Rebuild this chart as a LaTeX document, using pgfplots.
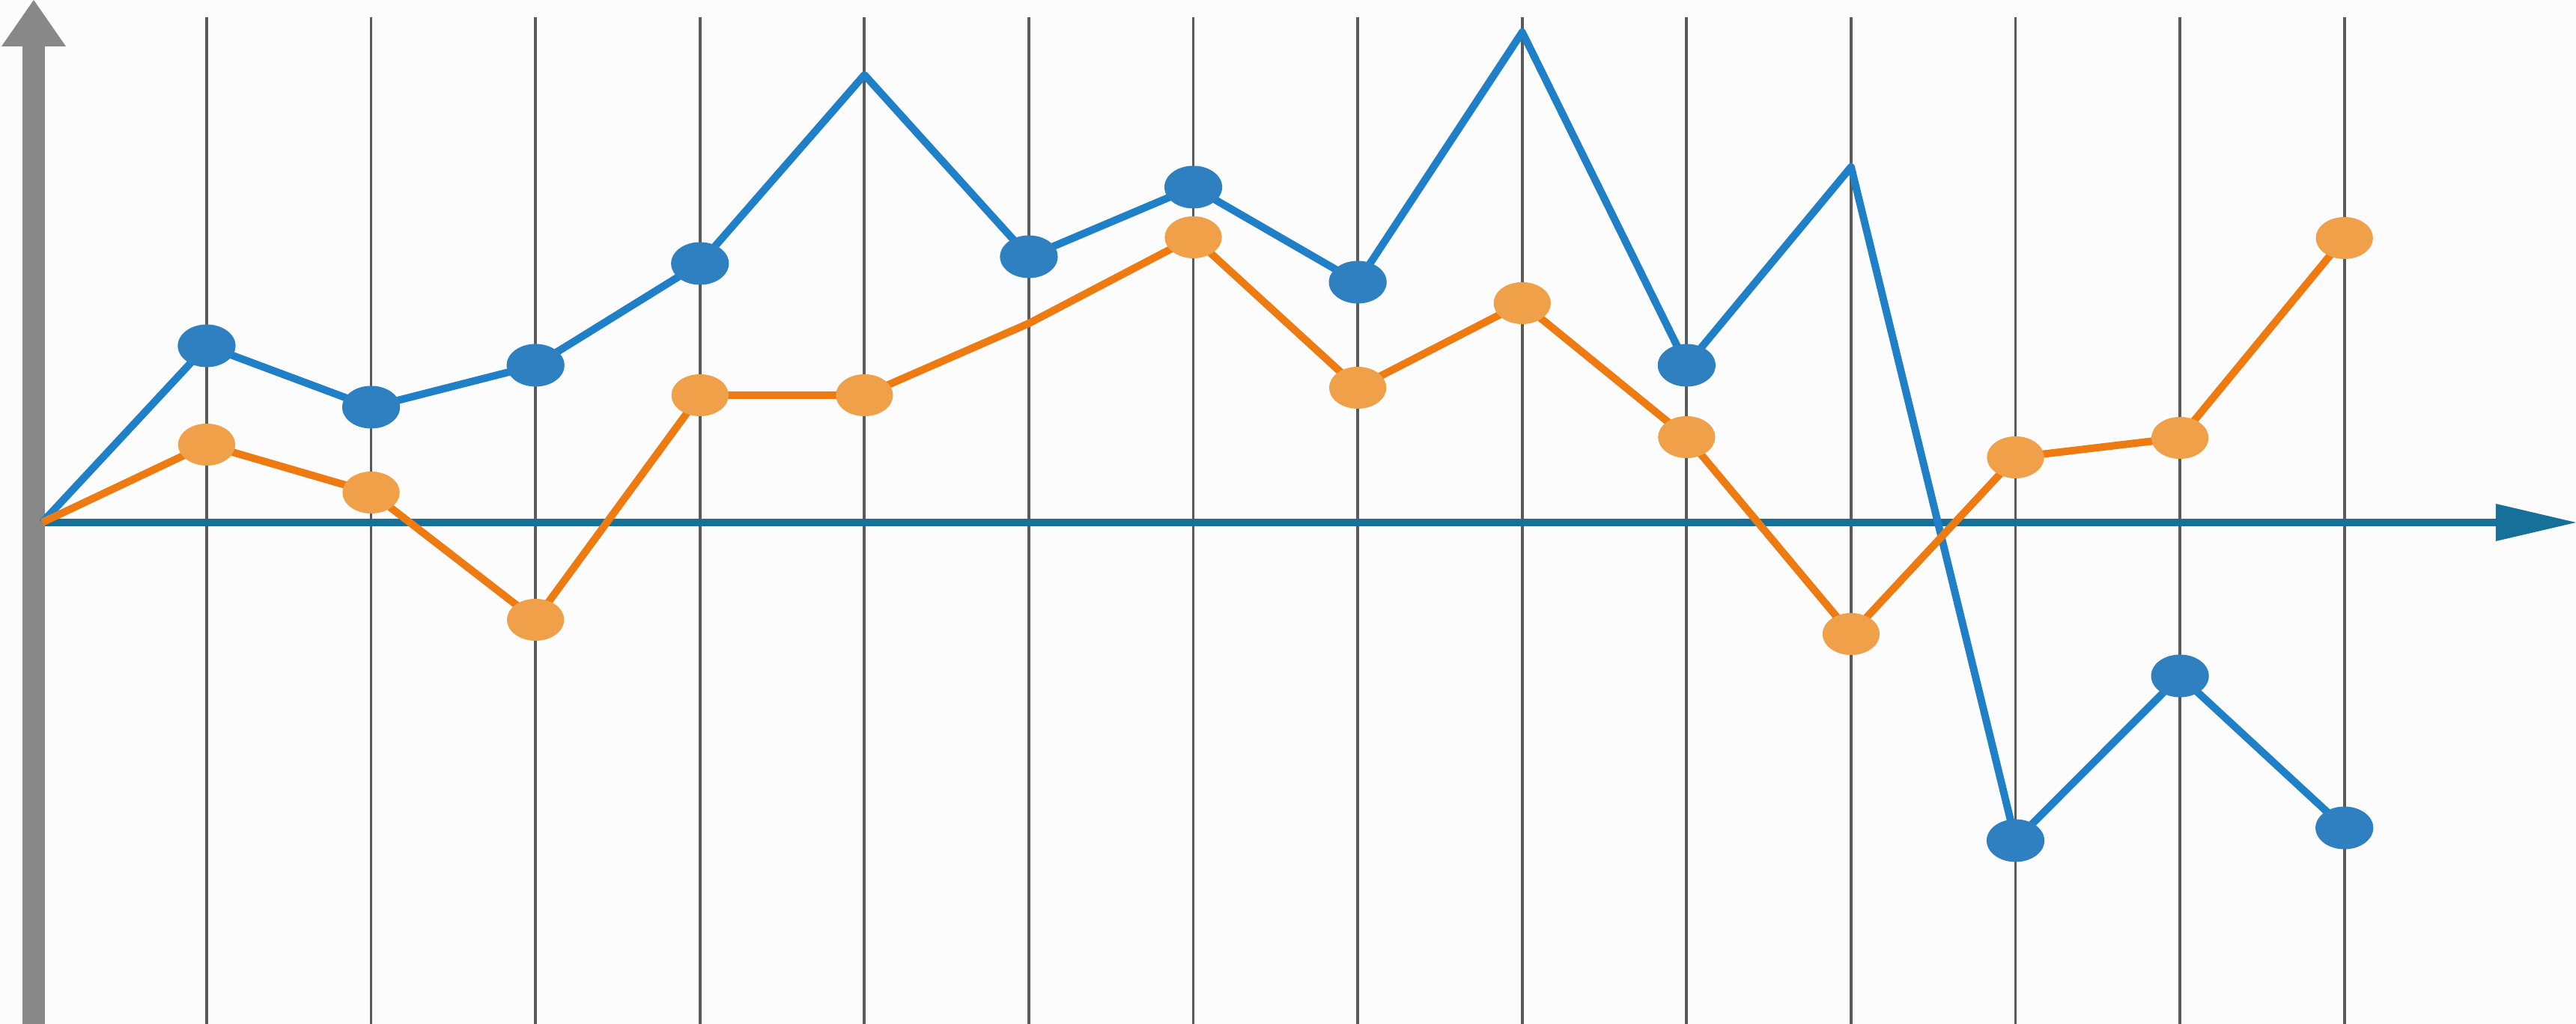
\documentclass[border=0pt]{standalone}
\usepackage{pgfplots}
\pgfplotsset{compat=1.18}
\definecolor{bgc}{HTML}{FCFCFC}
\definecolor{blueL}{HTML}{1F80C8}
\definecolor{blueM}{HTML}{2E80C0}
\definecolor{oranL}{HTML}{EE7A12}
\definecolor{oranM}{HTML}{F0A048}
\definecolor{axblue}{HTML}{17709A}
\definecolor{axgray}{HTML}{888888}
\definecolor{gridc}{HTML}{5A5A5A}
\begin{document}
\begin{tikzpicture}
\fill[bgc] (0,0) rectangle (344mm,136.8mm);
\begin{axis}[
  at={(0,0)}, anchor=south west,
  scale only axis, width=344mm, height=136.8mm,
  xmin=-0.2568, xmax=15.4085, ymin=-67, ymax=69.8,
  hide axis, clip=false,
]
% grid lines
\foreach \i in {1,...,14} {
  \edef\temp{\noexpand\draw[gridc, line width=0.38mm] (axis cs:\i,-67) -- (axis cs:\i,67.5);}
  \temp
}
% x axis arrow
\draw[axblue, line width=1mm] (axis cs:0.0164,0) -- (axis cs:14.93,0);
\fill[axblue] (axis cs:14.921,2.5) -- (axis cs:15.408,0) -- (axis cs:14.921,-2.5) -- cycle;
% y axis arrow
\fill[axgray] (axis cs:-0.1202,-67) rectangle (axis cs:0.0164,63.8);
\fill[axgray] (axis cs:-0.2477,63.6) -- (axis cs:0.1439,63.6) -- (axis cs:-0.0519,69.8) -- cycle;

% blue series line
\addplot[blueL, line width=1mm, line join=round, mark=none] coordinates {
 (0,0) (1,23.6) (2,15.4) (3,21.0) (4,34.6) (5,59.8) (6,35.5) (7,44.8)
 (8,32.1) (9,65.5) (10,21.0) (11,47.5) (12,-42.5) (13,-20.5) (14,-40.8)
};
% orange series line
\addplot[oranL, line width=1mm, line join=round, mark=none] coordinates {
 (0,0) (1,10.4) (2,4.0) (3,-13.0) (4,17.0) (5,17.0) (6,26.6) (7,38.1)
 (8,18.0) (9,29.3) (10,11.4) (11,-14.9) (12,8.7) (13,11.3) (14,38.0)
};
% blue markers
\addplot[blueM, only marks, mark=*, mark size=2.8mm, mark options={fill=blueM, draw=blueM, line width=0.1mm, xscale=1.36}] coordinates {
 (1,23.6) (2,15.4) (3,21.0) (4,34.6) (6,35.5) (7,44.8)
 (8,32.1) (10,21.0) (12,-42.5) (13,-20.5) (14,-40.8)
};
% orange markers
\addplot[oranM, only marks, mark=*, mark size=2.75mm, mark options={fill=oranM, draw=oranM, line width=0.1mm, xscale=1.37}] coordinates {
 (1,10.4) (2,4.0) (3,-13.0) (4,17.0) (5,17.0) (7,38.1)
 (8,18.0) (9,29.3) (10,11.4) (11,-14.9) (12,8.7) (13,11.3) (14,38.0)
};
\end{axis}
\pgfresetboundingbox
\path (0,0) rectangle (344mm,136.8mm);
\end{tikzpicture}
\end{document}
